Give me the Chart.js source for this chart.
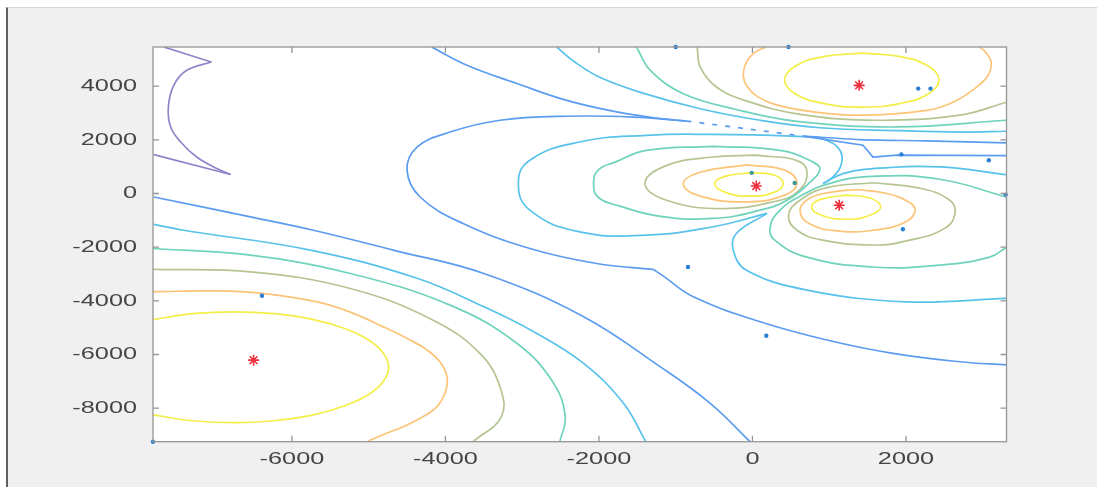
<!DOCTYPE html>
<html>
<head>
<meta charset="utf-8">
<title>Contour plot</title>
<script src="https://cdn.jsdelivr.net/npm/chart.js@4.4.1/dist/chart.umd.min.js"></script>
<style>
  html, body { margin: 0; padding: 0; background: #ffffff; overflow: hidden; }
  #frame {
    position: absolute; left: 6px; top: 7px; width: 1091px; height: 480px;
    background: #f0f0f0; border-left: 2px solid #5e5e5e; border-top: 1px solid #d6d6d6;
  }
  #wrap { position: absolute; left: 0; top: 0; width: 1097px; height: 487px; }
</style>
</head>
<body>
<div id="frame"></div>
<div id="wrap"><canvas id="contourPlot" width="1097" height="487"></canvas></div>
<script>
// axis ranges and ticks
const xRange = [-7810, 3310];
const yRange = [-9250, 5460];
const xTicks = [-6000, -4000, -2000, 0, 2000];
const yTicks = [-8000, -6000, -4000, -2000, 0, 2000, 4000];

// contour lines, [x, y] pairs
const purpleUpper = [[-7670, 5460], [-7050, 4900]];
const purpleCurve = [[-7050, 4900], [-7370, 4590], [-7540, 4030], [-7610, 3220], [-7580, 2480], [-7450, 1920], [-7240, 1360], [-6980, 930], [-6800, 710]];
const purpleLower = [[-6800, 710], [-7800, 1450]];

const blueLowLeft = [[-7800, -130], [-6540, -870], [-5720, -1370], [-4680, -2110], [-3500, -2980], [-2200, -4590], [-1200, -6460], [-550, -7820], [-30, -9250]];
const cyanLowLeft = [[-7800, -1150], [-7410, -1370], [-5760, -2110], [-4370, -3160], [-3500, -4220], [-2850, -5150], [-2200, -6330], [-1680, -7820], [-1390, -9250]];
const tealLowLeft = [[-7810, -2050], [-6540, -2300], [-5240, -2980], [-3940, -4160], [-3070, -5580], [-2590, -7070], [-2440, -8320], [-2510, -9250]];
const oliveLowLeft = [[-7810, -2830], [-6540, -2920], [-5240, -3540], [-4160, -4720], [-3550, -5960], [-3290, -7200], [-3270, -8320], [-3640, -9250]];
const orangeLowLeft = [[-7810, -3660], [-6980, -3630], [-6390, -3720], [-5670, -4040], [-5240, -4420], [-4810, -4970], [-4460, -5460], [-4240, -5830], [-4070, -6280], [-3980, -6830], [-4000, -7400], [-4110, -7940], [-4300, -8330], [-4550, -8690], [-4790, -8960], [-5020, -9250]];
const yellowLowLeft = [[-7810, -4700], [-7290, -4480], [-6760, -4410], [-6240, -4480], [-5750, -4680], [-5330, -5010], [-5010, -5440], [-4810, -5940], [-4740, -6470], [-4810, -7010], [-5010, -7510], [-5330, -7930], [-5750, -8270], [-6240, -8470], [-6760, -8540], [-7290, -8470], [-7810, -8250]];

const blueTopLeft = [[-4180, 5460], [-3720, 4780], [-3070, 4100], [-2420, 3470], [-1770, 3040], [-1200, 2790], [-860, 2700]];
const blueLoop = [[-860, 2700], [-1550, 2850], [-2420, 2880], [-3290, 2730], [-3940, 2290], [-4370, 1730], [-4500, 870], [-4330, -130], [-3770, -1120], [-2900, -2050], [-2030, -2610], [-1290, -2830]];
const blueLoopTail = [[-1290, -2830], [-1160, -3080], [-770, -3850], [100, -4780], [970, -5460], [1830, -5960], [2700, -6270], [3310, -6390]];
const blueDash = [[-860, 2700], [660, 2140]];
const blueRightUpper = [[660, 2140], [1400, 2010], [2270, 1960], [3310, 1890]];
const blueRightKink = [[660, 2140], [1440, 1800], [1570, 1360], [1880, 1430], [3310, 1410]];

const cyanS3Top = [[3310, 700], [2440, 990], [1570, 930], [1180, 740], [920, 370]];
const cyanAroundS2 = [[920, 370], [1050, 620], [1160, 1120], [1140, 1610], [970, 1980], [750, 2110], [-510, 2200], [-1380, 2170], [-2250, 1920], [-2900, 1240], [-3050, 370], [-2900, -620], [-2250, -1430], [-1380, -1550], [-510, -1240], [190, -740]];
const cyanS3Low = [[190, -740], [-210, -1490], [-250, -2110], [-80, -2860], [710, -3600], [2010, -4040], [3310, -3910]];

const tealS2 = [[-510, 1760], [360, 1610], [790, 1170], [880, 900], [750, 420], [450, -250], [100, -620], [-510, -930], [-1200, -850], [-1730, -470], [-2010, -140], [-2070, 370], [-2010, 870], [-1790, 1170], [-1380, 1610], [-510, 1760]];
const oliveS2 = [[50, 1430], [620, 1180], [710, 640], [580, 50], [360, -250], [-380, -560], [-1120, -250], [-1400, 370], [-1140, 1020], [-550, 1350], [50, 1430]];
const orangeS2 = [[-80, 1070], [420, 870], [580, 380], [420, -60], [-80, -310], [-680, -100], [-900, 370], [-680, 790], [-80, 1070]];
const yellowS2 = [[-30, 770], [290, 680], [400, 370], [290, 50], [-30, -100], [-360, 50], [-490, 370], [-360, 640], [-30, 770]];

const yellowS3 = [[1230, -60], [1530, -170], [1670, -500], [1530, -810], [1230, -960], [900, -810], [770, -500], [900, -210], [1230, -60]];
const orangeS3 = [[1360, 150], [1730, 10], [2020, -290], [2120, -620], [1990, -1070], [1570, -1370], [1140, -1400], [750, -1140], [620, -620], [750, -170], [1050, 60], [1360, 150]];
const oliveS3 = [[1570, 400], [2180, 200], [2570, -250], [2640, -730], [2510, -1290], [2050, -1740], [1570, -1920], [920, -1740], [580, -1370], [470, -810], [620, -250], [970, 220], [1570, 400]];
const tealS3 = [[3310, -130], [2440, 530], [1570, 640], [1010, 380], [620, -100], [360, -620], [230, -1250], [290, -1740], [710, -2370], [1570, -2740], [2440, -2670], [3090, -2370], [3310, -2000]];

const yellowS4 = [[1430, 5230], [1930, 5100], [2300, 4730], [2430, 4230], [2300, 3730], [1930, 3360], [1430, 3220], [920, 3360], [550, 3730], [420, 4230], [550, 4730], [920, 5100], [1430, 5230]];
const orangeS4 = [[180, 5460], [30, 5260], [-80, 4890], [-120, 4400], [-70, 4000], [60, 3620], [290, 3320], [750, 3060], [1400, 2920], [2270, 3100], [2640, 3440], [2900, 3920], [3070, 4400], [3110, 4890], [3040, 5260], [2960, 5460]];
const oliveS4 = [[-720, 5460], [-680, 4710], [-470, 3970], [-100, 3470], [620, 2950], [1620, 2730], [2700, 2920], [3310, 3400]];
const tealS4 = [[-1510, 5460], [-1330, 4590], [-900, 3720], [-250, 3160], [580, 2690], [1880, 2480], [3310, 2730]];
const cyanS4 = [[-2550, 5460], [-2310, 4890], [-1990, 4330], [-1460, 3770], [-680, 3160], [100, 2730], [880, 2450], [1920, 2340], [2740, 2290], [3310, 2320]];

// measured points and sources
const dotX = [-6390, -7810, -840, 180, 1960, 3080, 3300, 1940, 2160, 2320, -1000, 470];
const dotY = [-3810, -9250, -2740, -5300, -1330, 1240, -40, 1460, 3910, 3910, 5460, 5460];
const nearDotX = [-10, 550];
const nearDotY = [770, 390];
const starX = [-6500, 50, 1130, 1390];
const starY = [-6210, 280, -440, 4030];

// [points, level, tension, dashed]
const contourList = [
  [purpleUpper, 1, 0], [purpleCurve, 1, 0.4], [purpleLower, 1, 0],
  [blueLowLeft, 2, 0.4], [cyanLowLeft, 3, 0.4], [tealLowLeft, 4, 0.4],
  [oliveLowLeft, 5, 0.4], [orangeLowLeft, 6, 0.4], [yellowLowLeft, 7, 0.4],
  [blueTopLeft, 2, 0.4], [blueLoop, 2, 0.4], [blueLoopTail, 2, 0.4],
  [blueDash, 2, 0, true], [blueRightUpper, 2, 0.3], [blueRightKink, 2, 0],
  [cyanS3Top, 3, 0.4], [cyanAroundS2, 3, 0.45], [cyanS3Low, 3, 0.4],
  [tealS2, 4, 0.45], [oliveS2, 5, 0.45], [orangeS2, 6, 0.45], [yellowS2, 7, 0.45],
  [yellowS3, 7, 0.45], [orangeS3, 6, 0.45], [oliveS3, 5, 0.45], [tealS3, 4, 0.45],
  [yellowS4, 7, 0.45], [orangeS4, 6, 0.4], [oliveS4, 5, 0.4], [tealS4, 4, 0.4], [cyanS4, 3, 0.4]
];

const levelColors = ["", "#8c86c8", "#5c9cf0", "#58c2ea", "#6fd3bb", "#b5c592", "#fbc477", "#f3ee48"];

const toPoints = (xs, ys) => xs.map((v, i) => ({ x: v, y: ys[i] }));

const datasets = [
  {
    data: toPoints(starX, starY),
    pointStyle: "star", pointRadius: 5.5, borderColor: "#f0303c", borderWidth: 1.6,
    backgroundColor: "#f0303c", showLine: false, clip: 6
  },
  {
    data: toPoints(dotX, dotY),
    pointStyle: "circle", pointRadius: 2.2, borderWidth: 0,
    backgroundColor: "#2a7fd2", showLine: false, clip: 4
  },
  {
    data: toPoints(nearDotX, nearDotY),
    pointStyle: "circle", pointRadius: 2.2, borderWidth: 0,
    backgroundColor: "#3f9a92", showLine: false, clip: 4
  }
];

contourList.forEach(([pts, level, tension, dashed]) => {
  datasets.push({
    data: pts.map(([x, y]) => ({ x, y })),
    showLine: true,
    borderColor: levelColors[level],
    borderWidth: 1.7,
    borderDash: dashed ? [5, 8] : [],
    pointRadius: 0,
    tension: tension,
    fill: false
  });
});

const matlabAxes = {
  id: "matlabAxes",
  beforeDatasetsDraw(chart) {
    const { ctx, chartArea: a } = chart;
    ctx.save();
    ctx.fillStyle = "#ffffff";
    ctx.fillRect(a.left, a.top, a.right - a.left, a.bottom - a.top);
    ctx.restore();
  },
  afterDatasetsDraw(chart) {
    const { ctx, chartArea: a, scales } = chart;
    const x = scales.x, y = scales.y;
    ctx.save();
    ctx.strokeStyle = "#959595";
    ctx.lineWidth = 1.3;
    ctx.strokeRect(a.left, a.top, a.right - a.left, a.bottom - a.top);
    ctx.beginPath();
    xTicks.forEach((v) => {
      const px = x.getPixelForValue(v);
      ctx.moveTo(px, a.bottom); ctx.lineTo(px, a.bottom - 6);
      ctx.moveTo(px, a.top); ctx.lineTo(px, a.top + 6);
    });
    yTicks.forEach((v) => {
      const py = y.getPixelForValue(v);
      ctx.moveTo(a.left, py); ctx.lineTo(a.left + 6, py);
      ctx.moveTo(a.right, py); ctx.lineTo(a.right - 6, py);
    });
    ctx.stroke();

    // tick labels, widened like the source picture
    ctx.fillStyle = "#454545";
    ctx.font = '16px "Liberation Sans", Arial, sans-serif';
    ctx.textBaseline = "middle";
    xTicks.forEach((v) => {
      ctx.save();
      ctx.translate(x.getPixelForValue(v), a.bottom + 18);
      ctx.scale(1.58, 1);
      ctx.textAlign = "center";
      ctx.fillText(String(v), 0, 0);
      ctx.restore();
    });
    yTicks.forEach((v) => {
      ctx.save();
      ctx.translate(a.left - 16, y.getPixelForValue(v) + 0.5);
      ctx.scale(1.58, 1);
      ctx.textAlign = "right";
      ctx.fillText(String(v), 0, 0);
      ctx.restore();
    });
    ctx.restore();
  }
};

new Chart("contourPlot", {
  type: "scatter",
  data: { datasets: datasets },
  options: {
    responsive: false,
    animation: false,
    events: [],
    layout: { padding: { left: 153, right: 90.5, top: 47, bottom: 45.3 } },
    plugins: { legend: { display: false }, tooltip: { enabled: false } },
    scales: {
      x: { type: "linear", display: false, min: xRange[0], max: xRange[1] },
      y: { type: "linear", display: false, min: yRange[0], max: yRange[1] }
    }
  },
  plugins: [matlabAxes]
});
</script>
</body>
</html>
